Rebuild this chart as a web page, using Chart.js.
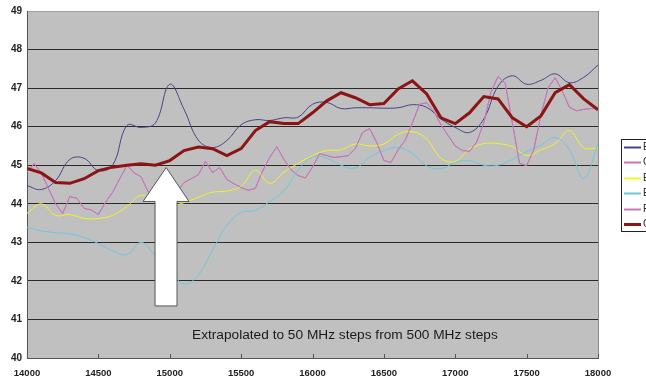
<!DOCTYPE html>
<html><head><meta charset="utf-8">
<script src="https://cdn.jsdelivr.net/npm/chart.js@4.4.1/dist/chart.umd.min.js"></script>
<style>html,body{margin:0;padding:0;background:#fff;overflow:hidden}#wrap{width:646px;height:381px;position:relative;overflow:hidden}</style>
</head><body><div id="wrap"><canvas id="c" width="646" height="381"></canvas></div>
<script>
// Frequency grids (MHz)
const freqs100 = Array.from({length: 41}, (_, i) => 14000 + 100 * i);
const freqs50 = Array.from({length: 81}, (_, i) => 14000 + 50 * i);
const seriesNames = ["Elem 1", "Cross", "Elem 2", "Elem 3", "Feed", "Combined"];

const navyVals = [44.47,44.37,44.6,45.15,45.18,44.86,45.0,46.03,45.98,46.1,47.1,46.45,45.65,45.46,45.64,46.05,46.18,46.16,46.23,46.25,46.58,46.63,46.47,46.49,46.49,46.48,46.49,46.57,46.5,46.2,45.98,45.85,46.2,47.05,47.32,47.1,47.2,47.37,47.14,47.28,47.6];
const pinkVals = [44.82,45.04,44.8,44.4,44.0,43.75,44.19,44.14,43.88,43.84,
  43.72,44.04,44.3,44.65,45.0,44.8,44.7,44.3,44.1,44.0,
  44.1,44.3,44.55,44.65,44.75,45.1,44.81,44.94,44.63,44.52,
  44.42,44.35,44.4,44.85,45.2,45.48,45.15,44.88,44.73,44.67,
  44.95,45.3,45.25,45.2,45.22,45.25,45.43,45.85,45.95,45.59,
  45.12,45.07,45.4,45.65,46.1,46.58,46.62,46.4,46.05,45.77,
  45.5,45.38,45.36,45.6,46.1,46.9,47.3,47.12,46.1,45.05,
  44.99,45.4,46.3,47.0,47.27,46.92,46.5,46.41,46.45,46.47,46.47];
const yellowVals = [43.75,44.0,43.7,43.72,43.62,43.62,43.7,43.93,44.22,44.05,43.95,44.03,44.17,44.3,44.33,44.45,44.87,44.53,44.82,45.05,45.25,45.38,45.4,45.55,45.5,45.55,45.8,45.87,45.68,45.18,45.1,45.42,45.56,45.56,45.48,45.25,45.4,45.56,45.9,45.45,45.45];
const cyanVals = [43.39,43.3,43.25,43.22,43.12,42.97,42.78,42.68,43.0,42.65,42.3,41.92,42.15,42.8,43.44,43.78,43.83,44.06,44.33,44.88,45.22,45.18,45.0,44.93,45.2,45.38,45.46,45.3,44.98,44.91,45.07,45.12,45.0,45.0,45.15,45.35,45.52,45.72,45.4,44.66,45.55];
const purpleVals = pinkVals; // coincides with the pink trace in the picture
const redVals = [44.92,44.8,44.55,44.53,44.65,44.86,44.95,45.0,45.04,45.0,45.12,45.38,45.47,45.43,45.25,45.43,45.9,46.13,46.08,46.08,46.36,46.67,46.88,46.75,46.57,46.6,46.98,47.19,46.85,46.23,46.08,46.36,46.78,46.72,46.23,46.0,46.28,46.88,47.09,46.72,46.44];

const yTicks = [40,41,42,43,44,45,46,47,48,49];
const xTicks = [14000,14500,15000,15500,16000,16500,17000,17500,18000];
const noteText = "Extrapolated to 50 MHz steps from 500 MHz steps";

const pts = (fr, vals) => fr.map((f, i) => ({x: f, y: vals[i]}));
function ds(i, fr, vals, color, width, tension) {
  return {label: seriesNames[i], data: pts(fr, vals), borderColor: color, backgroundColor: color,
    borderWidth: width, pointRadius: 0, pointHoverRadius: 0, tension: tension, fill: false, order: 5 - i};
}

const plotBg = {
  id: 'plotBg',
  beforeDraw(chart) {
    const a = chart.chartArea, c = chart.ctx;
    c.save(); c.fillStyle = '#c0c0c0'; c.fillRect(a.left, a.top, a.right - a.left, a.bottom - a.top); c.restore();
  },
  beforeDatasetsDraw(chart) {
    const a = chart.chartArea, c = chart.ctx;
    c.save(); c.strokeStyle = '#8a8a8a'; c.lineWidth = 1;
    c.beginPath(); c.moveTo(Math.round(a.right) + 0.5, a.top); c.lineTo(Math.round(a.right) + 0.5, a.bottom); c.stroke();
    c.strokeStyle = '#555';
    const xs = chart.scales.x;
    xTicks.forEach(v => { const px = Math.round(xs.getPixelForValue(v)) + 0.5; c.beginPath(); c.moveTo(px, a.bottom - 4); c.lineTo(px, a.bottom); c.stroke(); });
    c.restore();
  }
};

const annot = {
  id: 'annot',
  afterDatasetsDraw(chart) {
    const xs = chart.scales.x, ys = chart.scales.y, c = chart.ctx;
    const X = v => xs.getPixelForValue(v), Y = v => ys.getPixelForValue(v);
    const cx = 14975, tip = 44.94, base = 44.06, bottom = 41.35, headL = 14813, headR = 15135, shL = 14897, shR = 15051;
    c.save();
    c.beginPath();
    c.moveTo(X(cx), Y(tip));
    c.lineTo(X(headR), Y(base));
    c.lineTo(X(shR), Y(base));
    c.lineTo(X(shR), Y(bottom));
    c.lineTo(X(shL), Y(bottom));
    c.lineTo(X(shL), Y(base));
    c.lineTo(X(headL), Y(base));
    c.closePath();
    c.fillStyle = '#ffffff'; c.fill();
    c.strokeStyle = '#555'; c.lineWidth = 1; c.stroke();
    c.fillStyle = '#1a1a1a';
    c.font = '13.7px "Liberation Sans", Arial, sans-serif';
    c.textAlign = 'center'; c.textBaseline = 'middle';
    c.fillText(noteText, X(16227), Y(40.6));
    c.restore();
  },
  afterDraw(chart) {
    const c = chart.ctx, a = chart.chartArea;
    const L = a.right + 23, T = 139, H = 92;
    c.save();
    c.fillStyle = '#fff'; c.fillRect(L, T, 80, H);
    c.strokeStyle = '#222'; c.lineWidth = 1; c.strokeRect(L + 0.5, T + 0.5, 80, H);
    chart.data.datasets.forEach((d, i) => {
      const y = Math.round(T + 8 + i * 15.4) + 0.5;
      c.strokeStyle = d.borderColor; c.lineWidth = i === 5 ? 3 : 2;
      c.beginPath(); c.moveTo(L + 3, y); c.lineTo(L + 20, y); c.stroke();
      c.fillStyle = '#222'; c.font = '10px "Liberation Sans", Arial, sans-serif'; c.textBaseline = 'middle';
      c.fillText(d.label, L + 22, y);
    });
    c.restore();
  }
};

new Chart(document.getElementById('c'), {
  type: 'line',
  data: {
    datasets: [
      ds(0, freqs100, navyVals, '#444488', 1, 0.4),
      ds(1, freqs50, pinkVals, '#d070c0', 1, 0),
      ds(2, freqs100, yellowVals, '#f4f428', 1, 0.4),
      ds(3, freqs100, cyanVals, '#6cc8dc', 1, 0.4),
      ds(4, freqs50, purpleVals, '#c478b8', 1, 0),
      ds(5, freqs100, redVals, '#8c1414', 3, 0)
    ]
  },
  options: {
    responsive: false,
    animation: false,
    events: [],
    layout: {padding: {left: 0, top: 10, right: 48, bottom: 0}},
    plugins: {legend: {display: false}, tooltip: {enabled: false}},
    scales: {
      x: {
        type: 'linear', min: 14000, max: 18000,
        afterBuildTicks: s => { s.ticks = xTicks.map(v => ({value: v})); },
        afterFit: s => { s.height = 23; },
        ticks: {color: '#222', font: {family: '"Liberation Sans", Arial, sans-serif', size: 9.5, weight: 'bold'}, padding: 2, maxRotation: 0, callback: v => String(v)},
        grid: {display: false},
        border: {display: true, color: '#555', width: 1}
      },
      y: {
        min: 40, max: 49,
        afterBuildTicks: s => { s.ticks = yTicks.map(v => ({value: v})); },
        afterFit: s => { s.width = 27; },
        ticks: {color: '#222', font: {family: '"Liberation Sans", Arial, sans-serif', size: 10, weight: 'bold'}, padding: 5, callback: v => String(v)},
        grid: {drawTicks: false, color: c => c.tick && c.tick.value === 49 ? '#a0a0a0' : '#2a2a2a', lineWidth: 1},
        border: {display: true, color: '#555', width: 1}
      }
    }
  },
  plugins: [plotBg, annot]
});
</script></body></html>
